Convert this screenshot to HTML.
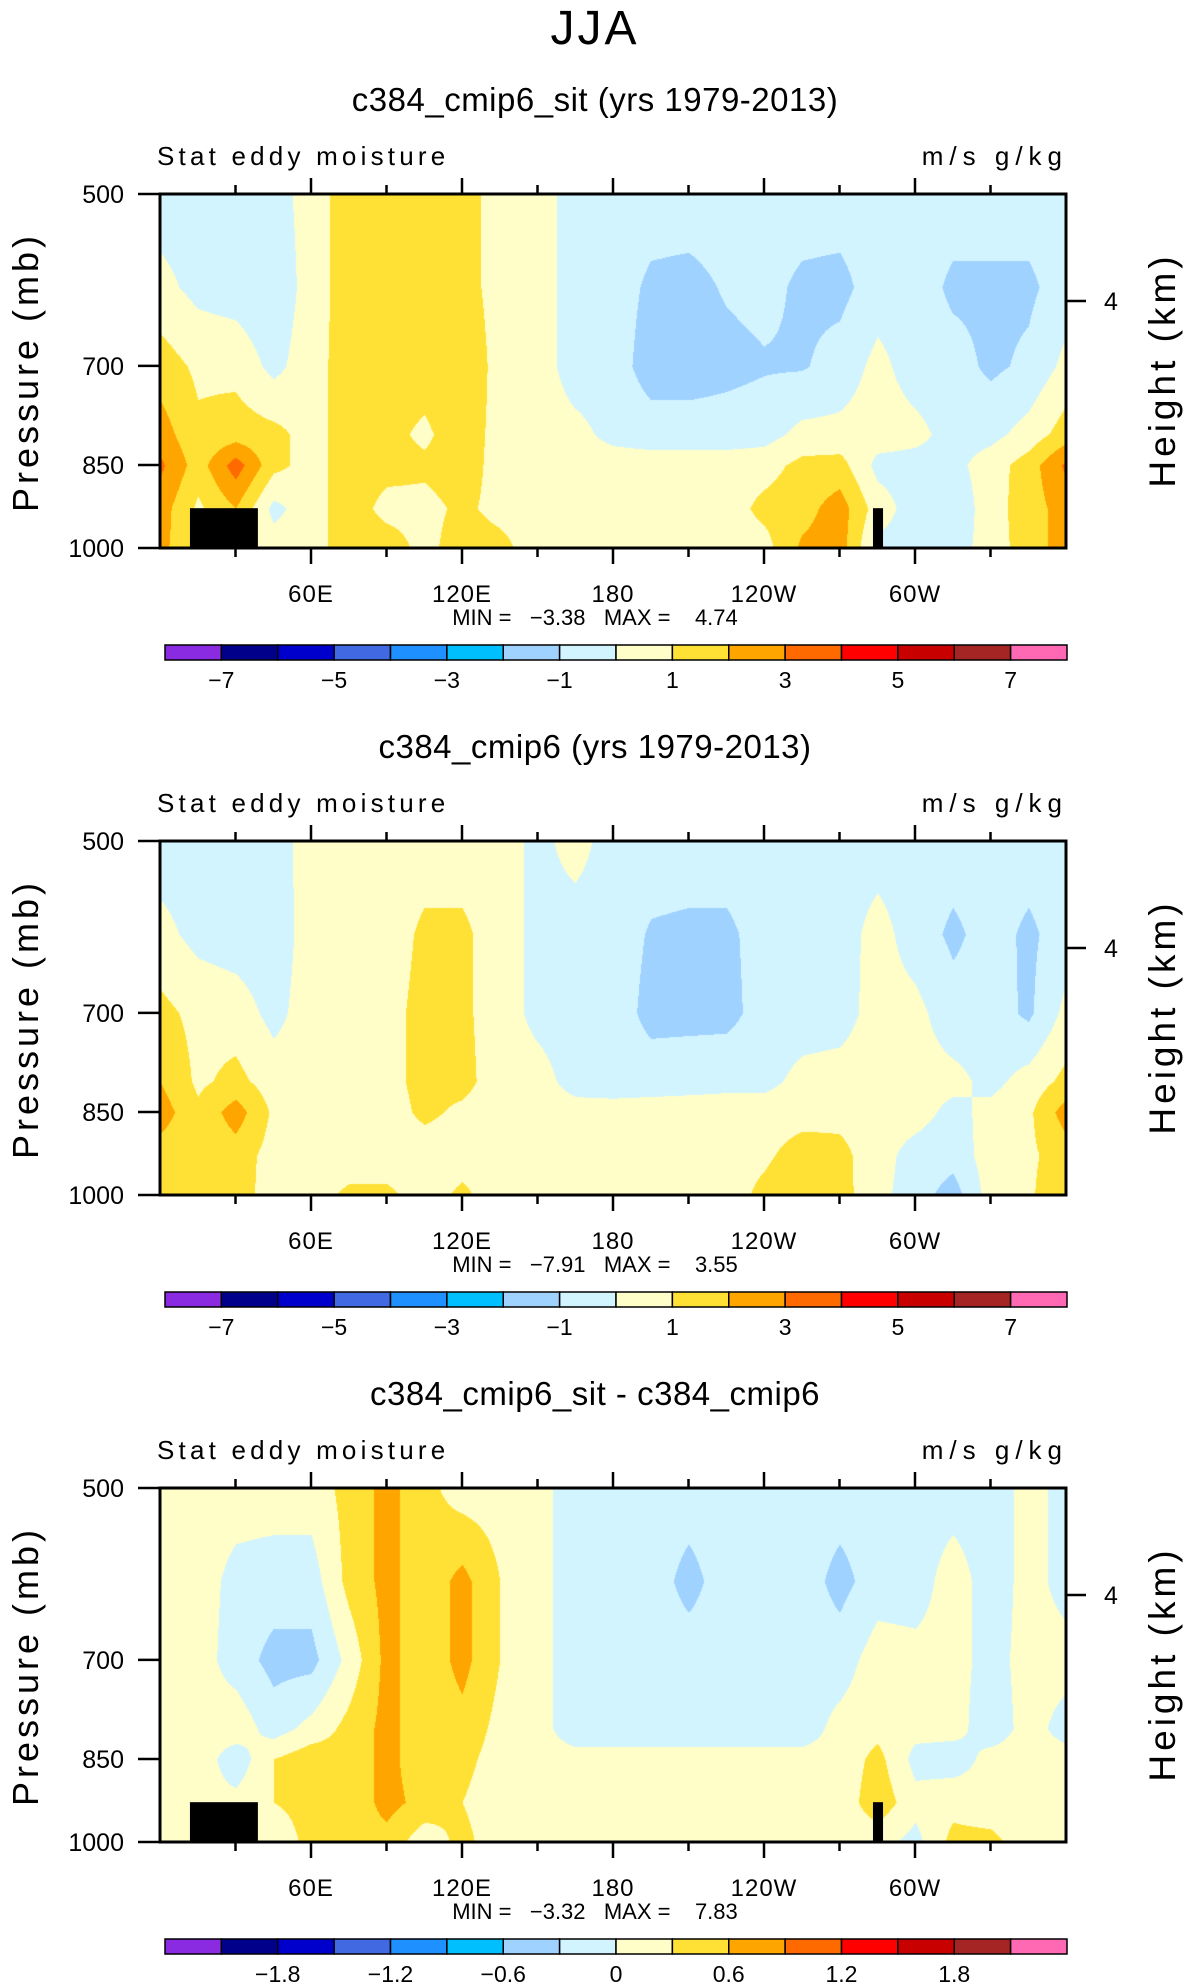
<!DOCTYPE html>
<html><head><meta charset="utf-8"><title>JJA stat eddy moisture</title>
<style>
body{margin:0;background:#fff;}
#wrap{position:relative;width:1190px;height:1987px;overflow:hidden;background:#fff;}
canvas{position:absolute;}
svg{position:absolute;left:0;top:0;}
text{font-family:"Liberation Sans",sans-serif;fill:#000;}
</style></head><body>
<div id="wrap">
<canvas id="c0" width="906" height="354" style="left:160px;top:194px"></canvas>
<canvas id="c1" width="906" height="354" style="left:160px;top:841px"></canvas>
<canvas id="c2" width="906" height="354" style="left:160px;top:1488px"></canvas>
<svg id="svg" width="1190" height="1987">
<text x="595" y="44" text-anchor="middle" font-size="48" style="letter-spacing:3px">JJA</text>
</svg>
</div>
<script>
// ---- data ----
const lons = [0,15,30,45,60,75,90,105,120,135,150,165,180,195,210,225,240,255,270,285,300,315,330,345,360];
const levels = [500,600,700,800,850,925,1000];
const field1 = [
 [-0.5,-0.5,-0.5,-0.5,0.5,1.5,1.5,1.5,1.5,0.5,0.5,-0.5,-0.5,-0.5,-0.5,-0.5,-0.5,-0.5,-0.5,-0.5,-0.5,-0.5,-0.5,-0.5,-0.5],
 [0.3,-0.3,-0.5,-0.8,0.5,1.5,1.5,1.5,1.5,0.5,0.5,-0.5,-0.5,-1.2,-1.3,-0.9,-0.7,-1.2,-1.3,-0.5,-0.5,-1.2,-1.2,-1.2,-0.5],
 [1.5,0.8,0.7,-0.3,0.6,1.5,1.5,1.5,2.0,0.5,0.5,-0.5,-0.5,-1.5,-1.5,-1.3,-1.1,-1.1,-0.6,0.3,-0.5,-0.6,-1.2,-0.8,0.3],
 [2.5,1.2,1.5,1.3,0.6,1.5,1.3,0.8,1.6,0.6,0.5,0.3,-0.3,-0.5,-0.5,-0.5,-0.4,0.3,0.3,0.5,0.3,-0.4,-0.3,0.4,1.5],
 [3.2,1.5,3.5,1.3,0.6,1.5,1.3,1.2,1.5,0.6,0.5,0.5,0.5,0.5,0.5,0.5,0.6,1.3,1.4,-0.3,-0.4,-0.3,0.5,1.5,3.2],
 [2.5,0.8,2.0,-0.3,0.6,1.5,0.7,0.7,1.2,0.7,0.5,0.5,0.5,0.5,0.5,0.5,1.3,1.6,2.5,0.5,-0.5,-0.8,0.6,1.5,2.5],
 [2.3,1.0,1.5,0.5,0.6,1.5,1.5,0.7,1.5,1.3,0.5,0.5,0.5,0.5,0.5,0.5,0.6,2.2,2.5,-0.3,-0.4,-0.5,0.5,1.5,2.5]
];
const field2 = [
 [-0.5,-0.5,-0.5,-0.5,0.5,0.5,0.5,0.5,0.5,0.5,-0.3,0.4,-0.5,-0.5,-0.5,-0.5,-0.5,-0.5,-0.5,-0.5,-0.5,-0.5,-0.5,-0.5,-0.5],
 [0.3,-0.3,-0.5,-0.6,0.5,0.5,0.5,1.2,1.2,0.5,-0.3,-0.5,-0.5,-1.1,-1.2,-1.2,-0.6,-0.5,-0.5,0.4,-0.5,-1.2,-0.6,-1.2,-0.5],
 [1.3,0.7,0.5,-0.3,0.5,0.8,0.7,1.3,1.2,0.5,-0.3,-0.5,-0.5,-1.3,-1.3,-1.3,-0.6,-0.5,-0.4,0.4,0.3,-0.6,-0.5,-1.2,0.3],
 [2.0,0.8,1.3,0.5,0.5,0.7,0.7,1.3,1.3,0.5,0.4,-0.4,-0.5,-0.5,-0.4,-0.3,-0.3,0.3,0.4,0.5,0.4,0.3,-0.3,0.4,1.3],
 [2.5,1.2,2.5,0.8,0.5,0.6,0.6,1.2,0.8,0.5,0.5,0.4,0.4,0.5,0.5,0.5,0.5,0.6,0.7,0.5,0.4,-0.3,0.3,0.8,2.5],
 [1.5,1.2,1.5,0.6,0.5,0.5,0.5,0.5,0.6,0.5,0.4,0.4,0.4,0.4,0.4,0.5,0.8,1.5,1.3,0.4,-0.4,-0.6,0.5,0.8,1.5],
 [2.0,1.3,1.5,0.5,0.6,1.2,1.2,0.6,1.2,0.5,0.5,0.5,0.5,0.5,0.5,0.5,1.3,2.0,1.4,0.3,-0.5,-1.5,0.5,0.8,2.0]
];
const field3 = [
 [0.15,0.15,0.15,0.15,0.15,0.4,0.7,0.4,0.15,0.15,0.1,-0.15,-0.15,-0.15,-0.15,-0.15,-0.15,-0.15,-0.15,-0.15,-0.15,-0.15,-0.15,0.1,-0.1],
 [0.15,0.15,-0.1,-0.15,-0.15,0.4,0.7,0.4,0.7,0.3,0.1,-0.15,-0.15,-0.15,-0.4,-0.15,-0.15,-0.15,-0.4,-0.15,-0.15,0.15,-0.15,0.1,-0.1],
 [0.15,0.15,-0.15,-0.4,-0.4,0.1,0.7,0.4,0.7,0.3,0.1,-0.15,-0.15,-0.15,-0.15,-0.15,-0.15,-0.15,-0.15,0.15,0.1,0.1,-0.1,0.1,0.1],
 [0.1,0.1,0.2,-0.15,0.1,0.4,0.7,0.4,0.5,0.2,0.1,-0.15,-0.15,-0.15,-0.15,-0.15,-0.15,-0.15,0.1,0.2,0.1,0.1,-0.15,0.1,-0.1],
 [0.1,0.2,-0.2,0.3,0.5,0.4,0.7,0.4,0.4,0.15,0.1,0.1,0.1,0.1,0.1,0.1,0.1,0.1,0.1,0.4,-0.1,-0.15,0.1,0.1,0.1],
 [0.1,0.1,0.1,0.3,0.4,0.4,0.7,0.5,0.3,0.1,0.1,0.1,0.1,0.1,0.1,0.1,0.1,0.1,0.1,0.5,0.1,0.2,0.1,0.1,0.1],
 [0.1,0.1,0.1,0.1,0.4,0.5,0.5,0.1,0.4,0.1,0.1,0.1,0.1,0.1,0.1,0.1,0.1,0.1,0.1,0.1,-0.1,0.4,0.4,0.1,0.1]
];
const colors = ["#8a2be2","#00008b","#0000cd","#4169e1","#1e90ff","#00bfff","#a0d2ff","#d2f4ff","#fffdc8","#ffe135","#ffa500","#ff6a00","#ff0000","#c80000","#a52525","#ff69b4"];
const stepSizes = [1,1,0.3];
const tickLabels12 = ["\u22127","\u22125","\u22123","\u22121","1","3","5","7"];
const tickLabels3 = ["\u22121.8","\u22121.2","\u22120.6","0","0.6","1.2","1.8"];
const titles = ["c384_cmip6_sit (yrs 1979-2013)","c384_cmip6 (yrs 1979-2013)","c384_cmip6_sit - c384_cmip6"];
const mins = ["\u22123.38","\u22127.91","\u22123.32"];
const maxs = ["4.74","3.55","7.83"];
const lonTickVals = [60,120,180,240,300];
const lonTickLabels = ["60E","120E","180","120W","60W"];
const presTicks = [500,700,850,1000];
const topoLon0 = [11.9,283.3];
const topoLon1 = [38.9,287.3];
const topoPres = [925,925];
const topoPanels = [[0,2],[0,2]];

// ---- geometry ----
const PX=160, PW=906, PH=354, tops=[194,841,1488];
const xScale = l => PX + l/360*PW;
const yScale = (p,top) => top + Math.log(p/500)/Math.log(2)*PH;
const NS="http://www.w3.org/2000/svg";
const svg=document.getElementById('svg');
function mk(tag,attrs,txt){const e=document.createElementNS(NS,tag);for(const k in attrs)e.setAttribute(k,attrs[k]);if(txt!==undefined)e.textContent=txt;svg.appendChild(e);return e;}

function sample(f,lon,p){
  let i=Math.min(Math.floor(lon/15),lons.length-2); const tx=(lon-lons[i])/15;
  let j=0; while(j<levels.length-2 && p>levels[j+1]) j++;
  const ty=(Math.log(p)-Math.log(levels[j]))/(Math.log(levels[j+1])-Math.log(levels[j]));
  const a=f[j][i]*(1-tx)+f[j][i+1]*tx, b=f[j+1][i]*(1-tx)+f[j+1][i+1]*tx;
  return a*(1-ty)+b*ty;
}
function hex(c){return [parseInt(c.substr(1,2),16),parseInt(c.substr(3,2),16),parseInt(c.substr(5,2),16)];}
const rgb=colors.map(hex);
[field1,field2,field3].forEach((f,k)=>{
  const cv=document.getElementById('c'+k), ctx=cv.getContext('2d');
  const img=ctx.createImageData(PW,PH), st=stepSizes[k];
  for(let y=0;y<PH;y++){const p=500*Math.pow(2,y/PH);
    for(let x=0;x<PW;x++){const v=sample(f,x/PW*360,p);
      let idx=Math.floor(v/st)+8; idx=Math.max(0,Math.min(15,idx));
      const c=rgb[idx], o=(y*PW+x)*4; img.data[o]=c[0];img.data[o+1]=c[1];img.data[o+2]=c[2];img.data[o+3]=255;}}
  ctx.putImageData(img,0,0);
});

for(let k=0;k<3;k++){
  const top=tops[k], bot=top+PH;
  let e;
  e=mk('text',{x:595,y:top-83,'text-anchor':'middle','font-size':33,style:'letter-spacing:0.5px'},titles[k]);
  
  
  e=mk('text',{x:157,y:top-29,'font-size':26,style:'letter-spacing:4.2px'},'Stat eddy moisture');
  
  
  e=mk('text',{x:1068,y:top-29,'text-anchor':'end','font-size':26,style:'letter-spacing:6px;white-space:pre'},'m/s g/kg');
  
  
  for(let t=0;t<topoLon0.length;t++){ if(topoPanels[t].indexOf(k)<0) continue;
    e=mk('rect',{x:xScale(topoLon0[t]),y:yScale(topoPres[t],top),width:xScale(topoLon1[t])-xScale(topoLon0[t]),height:bot-yScale(topoPres[t],top),fill:'#000'});
    
    
  }
  e=mk('rect',{x:PX,y:top,width:PW,height:PH,fill:'none',stroke:'#000','stroke-width':3});
  
  
  for(let l=30;l<360;l+=30){const x=xScale(l), major=(l%60===0);const len=major?16:9;
    e=mk('line',{x1:x,x2:x,y1:top,y2:top-len,stroke:'#000','stroke-width':2.5});
    
    
    e=mk('line',{x1:x,x2:x,y1:bot,y2:bot+len,stroke:'#000','stroke-width':2.5});
    
    
  }
  lonTickVals.forEach((l,i)=>{
    const t=mk('text',{x:xScale(l),y:bot+54,'text-anchor':'middle','font-size':24,style:'letter-spacing:1px'},lonTickLabels[i]);
    
    
  });
  presTicks.forEach(p=>{const y=yScale(p,top);
    const l=mk('line',{x1:PX-22,x2:PX,y1:y,y2:y,stroke:'#000','stroke-width':2.5});
    
    
    const t=mk('text',{x:124,y:y+9,'text-anchor':'end','font-size':25},String(p));
    
    
  });
  const y4=top+107;
  e=mk('line',{x1:PX+PW,x2:PX+PW+20,y1:y4,y2:y4,stroke:'#000','stroke-width':2.5});
  
  
  e=mk('text',{x:1104,y:y4+9,'font-size':25},'4');
  
  
  e=mk('text',{x:0,y:0,'text-anchor':'middle','font-size':36,style:'letter-spacing:4px',transform:`translate(38,${top+178}) rotate(-90)`},'Pressure (mb)');
  
  
  e=mk('text',{x:0,y:0,'text-anchor':'middle','font-size':37,style:'letter-spacing:4px',transform:`translate(1175,${top+176}) rotate(-90)`},'Height (km)');
  
  
  e=mk('text',{x:595,y:bot+77,'text-anchor':'middle','font-size':22,style:'white-space:pre'},'MIN =   '+mins[k]+'   MAX =    '+maxs[k]);
  
  
  const cbT=bot+97, cbX=165, cbW=902/16;
  colors.forEach((c,i)=>{
    const r=mk('rect',{x:cbX+i*cbW,y:cbT,width:cbW,height:15,fill:c,stroke:'#000','stroke-width':1.5});
    
    
  });
  const labs = k<2?tickLabels12:tickLabels3;
  labs.forEach((s,i)=>{const b = k<2?(1+2*i):(2+2*i);
    const t=mk('text',{x:cbX+b*cbW,y:cbT+43,'text-anchor':'middle','font-size':23},s);
    
    
  });
}
</script>
</body></html>
